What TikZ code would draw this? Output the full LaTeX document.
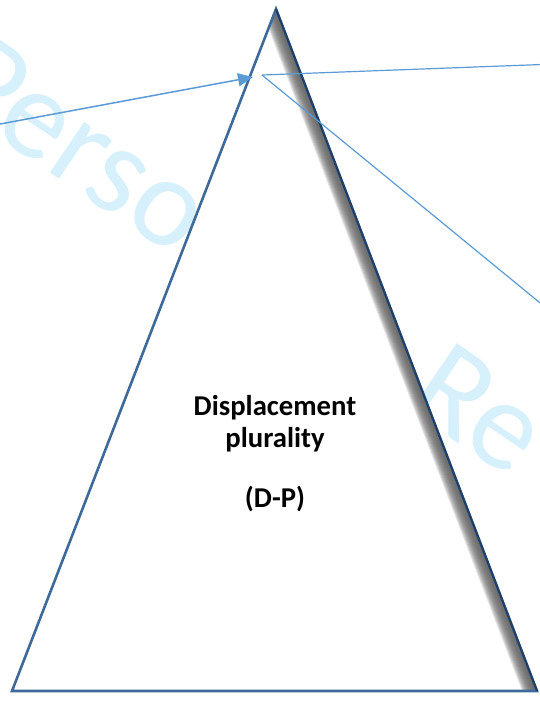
\documentclass[tikz,border=0pt]{standalone}
\usepackage{fontspec}
\setmainfont{Carlito}
\usetikzlibrary{arrows.meta,calc}
\definecolor{wmcol}{RGB}{214,240,252}
\definecolor{edgecol}{RGB}{62,106,154}
\definecolor{darkedge}{RGB}{34,62,96}
\definecolor{raycol}{RGB}{91,155,213}
\definecolor{shadowgray}{RGB}{100,100,100}
\tikzset{
  wm/.style={text=wmcol, font=\fontsize{128}{128}\selectfont, rotate=-34, anchor=base west, inner sep=0pt},
  ray/.style={draw=raycol, line width=1.2pt},
  inray/.style={draw=raycol, fill=raycol, line width=1.5pt, -{Triangle[length=15pt,width=13pt]}},
  dptext/.style={font=\fontsize{28.7}{34}\selectfont\bfseries, anchor=base, inner sep=0pt},
  prism/.style={draw=edgecol, line width=2.6pt, line join=miter},
}
\begin{document}
\begin{tikzpicture}[x=1pt,y=-1pt]
\useasboundingbox (0,0) rectangle (540,701);
% watermark
\begin{scope}
  \clip (0,0) rectangle (540,701);
  \node[wm] (wm1) at (-62,97) {Personal};
  \node[wm] (wm2) at (403,406) {Re};
\end{scope}
% prism
\coordinate (A) at (276,9);
\coordinate (BL) at (12,691);
\coordinate (BR) at (537,691);
\fill[white] (A) -- (BL) -- (BR) -- cycle;
\foreach \w in {3,4,...,15} {
  \fill[shadowgray, opacity=0.17] (A) -- (BR) -- ($(BR)+(-\w,0)$) -- ({276-0.5025*\w},{9+1.3055*\w}) -- cycle;
}
\draw[prism] (A) -- (BL) -- (BR) -- cycle;
\draw[darkedge, line width=2pt] (BR) -- (A);
% rays
\coordinate (src) at (-2,124.4);
\coordinate (tip) at (253,77);
\coordinate (exit) at (262,75);
\coordinate (out1) at (542,64.5);
\coordinate (out2) at (542,304.5);
\draw[inray] (src) -- (tip);
\draw[ray] (exit) -- (out1);
\draw[ray] (exit) -- (out2);
% text
\node[dptext] (t1) at (275,415) {Displacement};
\node[dptext] (t2) at (275,447) {plurality};
\node[dptext] (t3) at (275,507) {(D-P)};
\end{tikzpicture}
\end{document}
